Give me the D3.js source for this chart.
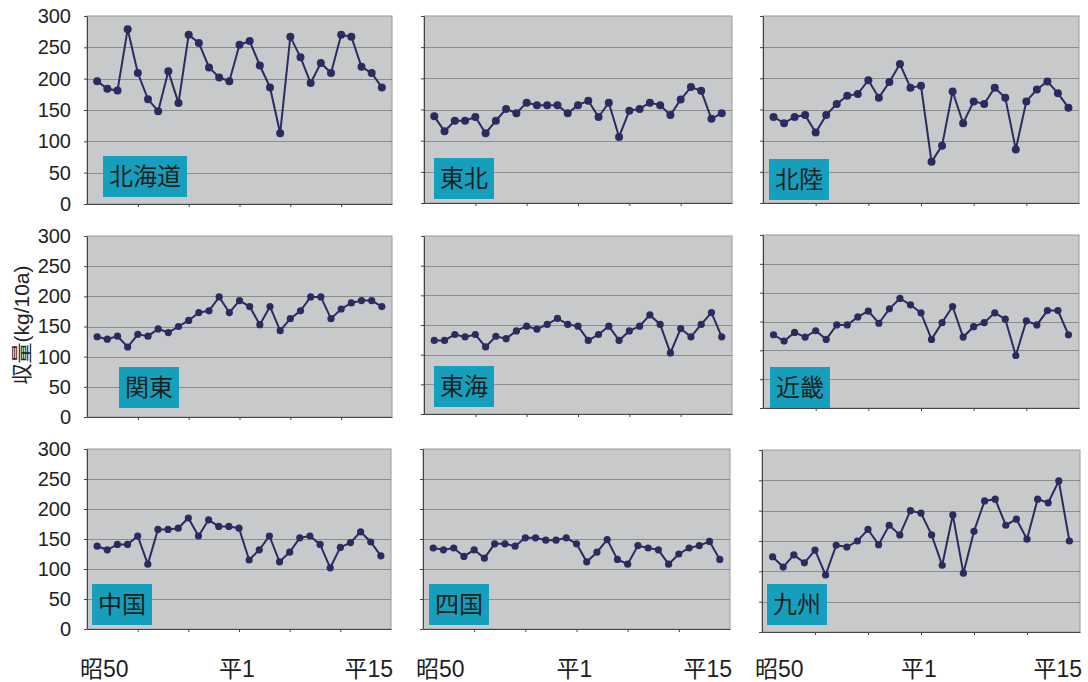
<!DOCTYPE html>
<html>
<head>
<meta charset="utf-8">
<script src="https://cdn.jsdelivr.net/npm/d3@7"></script>
<style>
  body { margin: 0; background: #fff; }
  svg { display: block; }
</style>
</head>
<body>
<div id="chart-area"></div>
<script>
// yield by region, 昭50 (1975) .. 平15 (2003)

let years = [1975, 1976, 1977, 1978, 1979, 1980, 1981, 1982, 1983, 1984,
             1985, 1986, 1987, 1988, 1989, 1990, 1991, 1992, 1993, 1994,
             1995, 1996, 1997, 1998, 1999, 2000, 2001, 2002, 2003];

let regions = ["北海道", "東北", "北陸", "関東", "東海", "近畿", "中国", "四国", "九州"];

let hokkaido = [196, 184, 181, 279, 209, 167, 148, 212, 161, 270, 257, 218, 202, 196, 254,
                260, 221, 186, 113, 267, 234, 193, 225, 209, 270, 267, 219, 209, 186];
let tohoku   = [139, 115, 132, 132, 138, 112, 132, 151, 144, 161, 157, 157, 157, 144, 157,
                164, 138, 161, 106, 148, 151, 161, 157, 141, 166, 186, 180, 135, 144];
let hokuriku = [138, 128, 138, 141, 113, 141, 159, 172, 175, 197, 169, 194, 223, 185, 188,
                66, 92, 179, 128, 163, 159, 185, 169, 86, 163, 182, 195, 176, 153];
let kanto    = [133, 129, 134, 116, 137, 134, 146, 140, 150, 160, 173, 176, 199, 173, 193,
                183, 153, 183, 143, 163, 176, 199, 199, 163, 179, 189, 193, 193, 183];
let tokai    = [124, 124, 134, 130, 134, 113, 131, 127, 140, 148, 143, 151, 161, 151, 148,
                124, 134, 148, 124, 140, 148, 167, 151, 103, 144, 130, 151, 171, 130];
let kinki    = [127, 116, 131, 123, 134, 119, 144, 144, 158, 168, 147, 172, 190, 179, 165,
                119, 148, 176, 123, 141, 148, 165, 154, 91, 151, 144, 169, 169, 127];
let chugoku  = [138, 132, 141, 141, 155, 108, 166, 166, 168, 185, 155, 182, 171, 171, 168,
                115, 132, 155, 112, 128, 152, 155, 141, 102, 136, 144, 162, 145, 122];
let shikoku  = [135, 132, 135, 121, 132, 118, 142, 142, 138, 152, 152, 148, 148, 152, 142,
                112, 128, 149, 116, 108, 139, 135, 132, 108, 125, 135, 139, 146, 116];
let kyushu   = [124, 107, 127, 114, 135, 94, 143, 140, 150, 169, 144, 176, 160, 200, 196,
                160, 110, 193, 97, 166, 216, 219, 176, 186, 153, 219, 213, 249, 150];

let yTicks = [0, 50, 100, 150, 200, 250, 300];
let xLabels = ["昭50", "平1", "平15"];

let series = [hokkaido, tohoku, hokuriku, kanto, tokai, kinki, chugoku, shikoku, kyushu];

// plot rectangles - the panels in the picture are not all the same size
// bx = label box offset from left edge, bb = gap under label box
let panels = [
    {x0: 87,  x1: 392,  y0: 16,  y1: 204, bx: 16, bb: 7, r: 4},
    {x0: 424, x1: 732,  y0: 16,  y1: 203, bx: 10, bb: 4, r: 4},
    {x0: 763, x1: 1079, y0: 16,  y1: 203, bx: 6,  bb: 3, r: 4},
    {x0: 87,  x1: 392,  y0: 236, y1: 417, bx: 32, bb: 9, r: 3.6},
    {x0: 424, x1: 732,  y0: 236, y1: 414, bx: 10, bb: 7, r: 3.6},
    {x0: 763, x1: 1079, y0: 235, y1: 408, bx: 7,  bb: 0, r: 3.6},
    {x0: 87,  x1: 391,  y0: 449, y1: 629, bx: 5,  bb: 4, r: 3.6},
    {x0: 423, x1: 730,  y0: 449, y1: 629, bx: 6,  bb: 4, r: 3.6},
    {x0: 762, x1: 1080, y0: 450, y1: 632, bx: 5,  bb: 7, r: 3.6}
];

let lineColor = "#2c2b60";

let svg = d3.select("#chart-area").append("svg")
    .attr("width", 1088)
    .attr("height", 682);

// y axis title
svg.append("text")
    .attr("transform", "translate(29,325) rotate(-90)")
    .attr("text-anchor", "middle")
    .style("font-family", "'Liberation Sans', 'Noto Sans CJK JP', sans-serif")
    .style("font-size", "21px")
    .style("fill", "#222")
    .text("収量(kg/10a)");

panels.forEach(function (p, i) {
    let data = series[i];
    let col = i % 3;
    let row = Math.floor(i / 3);

    let x = d3.scalePoint()
        .domain(years)
        .range([p.x0, p.x1])
        .padding(1);

    let y = d3.scaleLinear()
        .domain([0, 300])
        .range([p.y1, p.y0]);

    let g = svg.append("g").attr("class", "panel");

    g.append("rect")
        .attr("x", p.x0)
        .attr("y", p.y0)
        .attr("width", p.x1 - p.x0)
        .attr("height", p.y1 - p.y0)
        .attr("fill", "#c8c9cb")
        .attr("stroke", "#9a9a9a")
        .attr("stroke-width", 1);

    // gridlines
    g.selectAll(".grid")
        .data(yTicks.filter(t => t > 0 && t < 300))
        .enter().append("line")
        .attr("class", "grid")
        .attr("x1", p.x0)
        .attr("x2", p.x1)
        .attr("y1", d => Math.round(y(d)) + 0.5)
        .attr("y2", d => Math.round(y(d)) + 0.5)
        .attr("stroke", "#8d8d8d")
        .attr("stroke-width", 1);

    // axes
    let yAxis = d3.axisLeft(y)
        .tickValues(yTicks)
        .tickSize(3)
        .tickSizeOuter(0)
        .tickFormat(col === 0 ? d3.format("d") : "")
        .tickPadding(13);

    let yg = g.append("g")
        .attr("transform", "translate(" + p.x0 + ",0)")
        .call(yAxis);

    let xAxis = d3.axisBottom(x)
        .tickValues([1979, 1984, 1989, 1994, 1999])
        .tickSize(3)
        .tickSizeOuter(0)
        .tickFormat("");

    let xg = g.append("g")
        .attr("transform", "translate(0," + p.y1 + ")")
        .call(xAxis);

    [yg, xg].forEach(function (a) {
        a.select(".domain").attr("stroke", "#444");
        a.selectAll(".tick line").attr("stroke", "#444");
    });

    yg.selectAll(".tick text")
        .style("font-family", "'Liberation Sans', Arial, sans-serif")
        .style("font-size", "20px")
        .style("fill", "#222");

    // series
    let line = d3.line()
        .x((d, j) => x(years[j]))
        .y(d => y(d));

    g.append("path")
        .datum(data)
        .attr("d", line)
        .attr("fill", "none")
        .attr("stroke", lineColor)
        .attr("stroke-width", 2);

    g.selectAll(".dot")
        .data(data)
        .enter().append("circle")
        .attr("class", "dot")
        .attr("cx", (d, j) => x(years[j]))
        .attr("cy", d => y(d))
        .attr("r", p.r)
        .attr("fill", lineColor);

    // region label box
    let label = g.append("g");
    let txt = label.append("text")
        .style("font-family", "'Noto Sans CJK JP', sans-serif")
        .style("font-size", "24px")
        .style("fill", "#1e1e1e")
        .text(regions[i]);
    let tw = txt.node().getComputedTextLength();
    let bw = tw + 12, bh = 41;
    let bx = p.x0 + p.bx, by = p.y1 - p.bb - bh;
    label.insert("rect", "text")
        .attr("x", bx)
        .attr("y", by)
        .attr("width", bw)
        .attr("height", bh)
        .attr("fill", "#169fbc");
    txt.attr("x", bx + 6)
        .attr("y", by + 29);

    // year labels under the bottom row
    if (row === 2) {
        let anchors = ["start", "middle", "end"];
        let xs = [p.x0 - 7, x(1989) - 2, p.x1 + 2];
        xLabels.forEach(function (t, k) {
            g.append("text")
                .attr("x", xs[k])
                .attr("y", 677)
                .attr("text-anchor", anchors[k])
                .style("font-family", "'Liberation Sans', 'Noto Sans CJK JP', sans-serif")
                .style("font-size", "23px")
                .style("fill", "#1e1e1e")
                .text(t);
        });
    }
});
</script>
</body>
</html>
